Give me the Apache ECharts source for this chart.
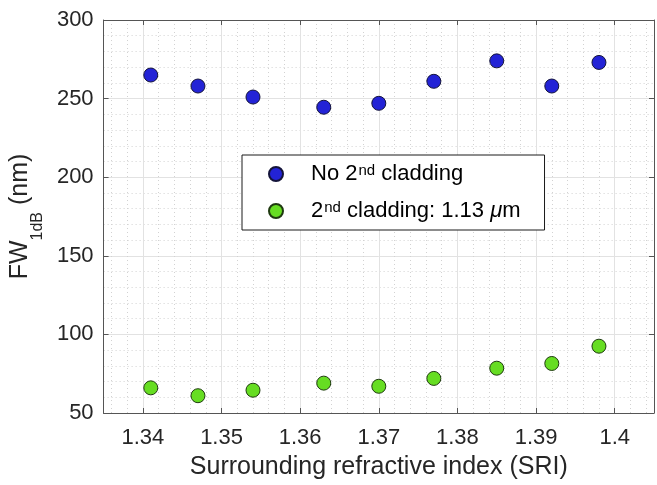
<!DOCTYPE html>
<html>
<head>
<meta charset="utf-8">
<script src="https://cdn.jsdelivr.net/npm/echarts@6/dist/echarts.min.js"></script>
<style>
  html, body { margin: 0; padding: 0; background: #fff; }
  #chart { width: 657px; height: 485px; }
</style>
</head>
<body>
<div id="chart"></div>
<script>
(() => {

    // surrounding refractive index (x)
    var sri = [1.341, 1.347, 1.354, 1.363, 1.370, 1.377, 1.385, 1.392, 1.398];

    // FW 1dB (nm)
    var fwNoCladding = [265, 258, 251, 244.5, 247, 261, 274, 258, 273];
    var fwCladding = [66, 61, 64.5, 69, 67, 72, 78.5, 81.5, 92.5];

    var seriesNames = ['No 2nd cladding', '2nd cladding: 1.13 μm'];
    // legend text with superscripts
    var legendRich = {
        'No 2nd cladding': 'No 2{sup|nd} cladding',
        '2nd cladding: 1.13 μm': '2{sup|nd} cladding: 1.13 {it|μ}m'
    };

    var font = '"Liberation Sans", Arial, Helvetica, sans-serif';
    var textColor = '#262626';
    var boxColor = '#555555';

    let pairs = (xs, ys) => xs.map((x, i) => [x, ys[i]]);

    let option = {
        animation: false,
        textStyle: { fontFamily: font },
        grid: {
            left: 101,
            right: 2,
            top: 20,
            bottom: 71
        },
        legend: {
            orient: 'vertical',
            left: 242,
            top: 155,
            padding: [8, 24, 8, 26],
            itemGap: 15,
            itemWidth: 14,
            itemHeight: 14,
            icon: 'circle',
            borderColor: '#1a1a1a',
            borderWidth: 1,
            backgroundColor: '#fff',
            data: seriesNames,
            formatter: name => legendRich[name],
            textStyle: {
                fontFamily: font,
                fontSize: 22,
                color: '#000',
                padding: [0, 0, 0, 23],
                rich: {
                    sup: {
                        fontFamily: font,
                        fontSize: 15,
                        color: '#000',
                        verticalAlign: 'top',
                        padding: [0, 0, 0, 1]
                    },
                    it: {
                        fontFamily: font,
                        fontSize: 22,
                        fontStyle: 'italic',
                        color: '#000'
                    }
                }
            }
        },
        xAxis: [{
            type: 'value',
            min: 1.335,
            max: 1.405,
            splitNumber: 7,
            name: 'Surrounding refractive index (SRI)',
            nameLocation: 'middle',
            nameGap: 42,
            nameTextStyle: { fontFamily: font, fontSize: 25, color: textColor },
            axisLine: { show: true, onZero: false, lineStyle: { color: boxColor, width: 1 } },
            axisTick: { show: true, inside: true, length: 5, lineStyle: { color: boxColor } },
            axisLabel: {
                fontFamily: font,
                fontSize: 22,
                color: textColor,
                margin: 14,
                formatter: v => {
                    let k = Math.round(v * 100);
                    if (Math.abs(v * 100 - k) > 1e-6) return '';
                    return String(+(k / 100).toFixed(2));
                }
            },
            splitLine: { show: true, lineStyle: { color: '#e2e2e2', width: 1 } },
            minorTick: { show: false, splitNumber: 5 },
            minorSplitLine: { show: true, lineStyle: { color: '#d2d2d2', width: 1, type: [1, 3] } }
        }, {
            type: 'value',
            position: 'top',
            min: 1.335,
            max: 1.405,
            splitNumber: 7,
            axisLine: { show: true, onZero: false, lineStyle: { color: boxColor, width: 1 } },
            axisTick: { show: true, inside: true, length: 5, lineStyle: { color: boxColor } },
            axisLabel: { show: false },
            splitLine: { show: false }
        }],
        yAxis: [{
            type: 'value',
            min: 50,
            max: 300,
            interval: 50,
            name: '{m|FW}{sub|1dB}{m| (nm)}',
            nameLocation: 'middle',
            nameRotate: 90,
            nameGap: 57,
            nameTextStyle: {
                fontFamily: font,
                fontSize: 25,
                color: textColor,
                rich: {
                    m: {
                        fontFamily: font,
                        fontSize: 25,
                        color: textColor,
                        verticalAlign: 'top'
                    },
                    sub: {
                        fontFamily: font,
                        fontSize: 16,
                        color: textColor,
                        verticalAlign: 'bottom',
                        padding: [22, 0, 0, 0]
                    }
                }
            },
            axisLine: { show: true, onZero: false, lineStyle: { color: boxColor, width: 1 } },
            axisTick: { show: true, inside: true, length: 5, lineStyle: { color: boxColor } },
            axisLabel: { fontFamily: font, fontSize: 22, color: textColor, margin: 10 },
            splitLine: { show: true, lineStyle: { color: '#e2e2e2', width: 1 } },
            minorTick: { show: false, splitNumber: 5 },
            minorSplitLine: { show: true, lineStyle: { color: '#d2d2d2', width: 1, type: [1, 3] } }
        }, {
            type: 'value',
            position: 'right',
            min: 50,
            max: 300,
            interval: 50,
            axisLine: { show: true, onZero: false, lineStyle: { color: boxColor, width: 1 } },
            axisTick: { show: true, inside: true, length: 5, lineStyle: { color: boxColor } },
            axisLabel: { show: false },
            splitLine: { show: false }
        }],
        series: [{
            name: seriesNames[0],
            type: 'scatter',
            xAxisIndex: 0,
            yAxisIndex: 0,
            symbol: 'circle',
            symbolSize: 14,
            data: pairs(sri, fwNoCladding),
            itemStyle: { color: '#2323d6', borderColor: '#14143a', borderWidth: 1, opacity: 1 }
        }, {
            name: seriesNames[1],
            type: 'scatter',
            xAxisIndex: 0,
            yAxisIndex: 0,
            symbol: 'circle',
            symbolSize: 14,
            data: pairs(sri, fwCladding),
            itemStyle: { color: '#66dd22', borderColor: '#1f3a10', borderWidth: 1, opacity: 1 }
        }]
    };

    var myChart = echarts.init(document.getElementById('chart'), null, { renderer: 'canvas' });
    myChart.setOption(option);

})();
</script>
</body>
</html>
